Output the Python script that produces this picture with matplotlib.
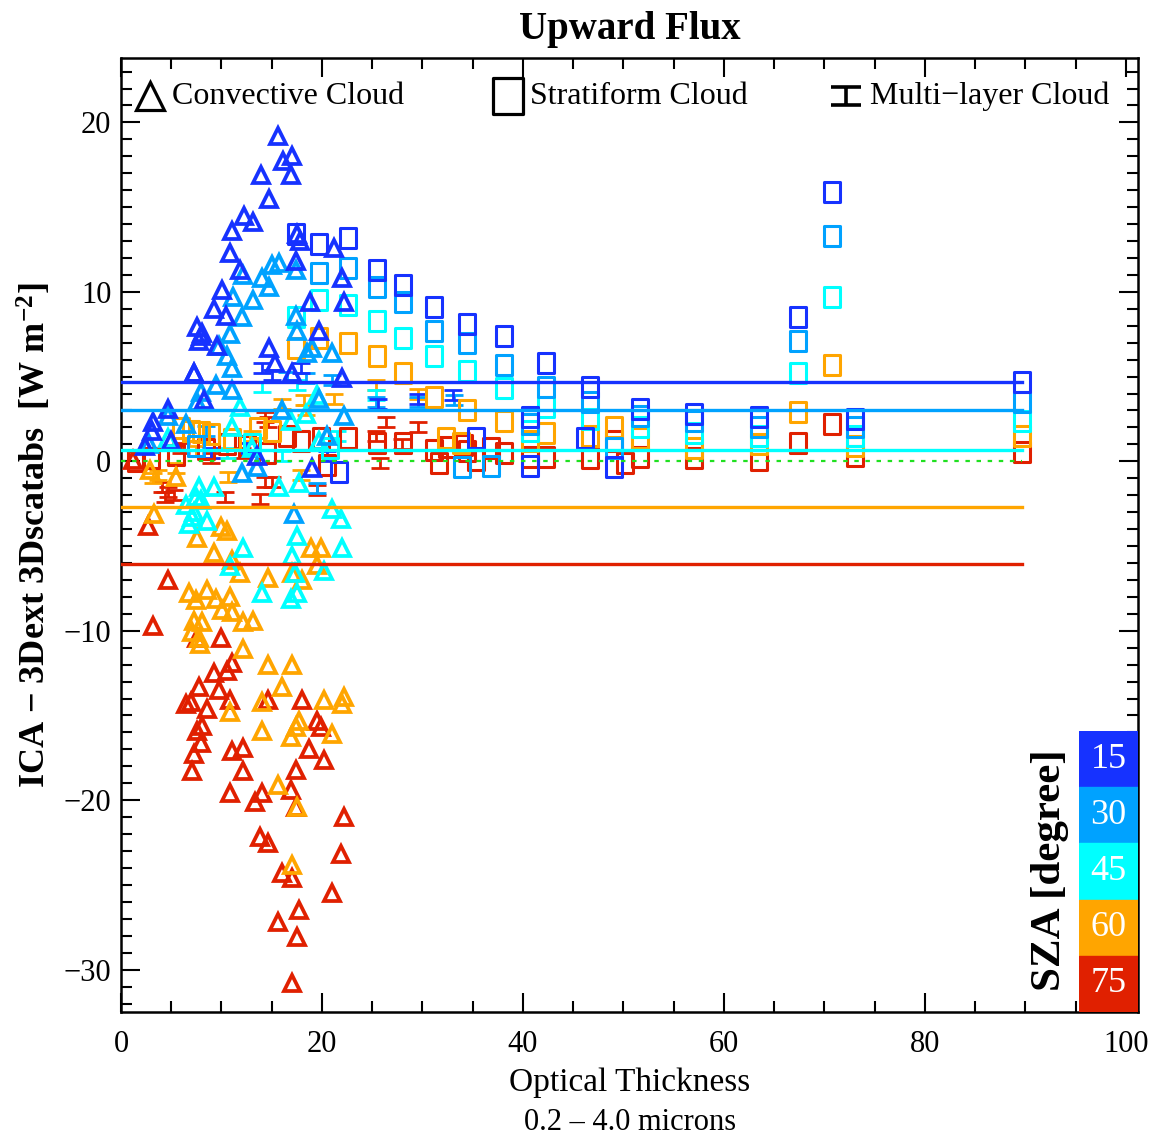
import numpy as np
import matplotlib
matplotlib.use("Agg")
import matplotlib.pyplot as plt
from matplotlib.path import Path
from matplotlib.ticker import MultipleLocator

plt.rcParams['font.family'] = ['Liberation Serif', 'DejaVu Serif']
plt.rcParams['mathtext.fontset'] = 'custom'
plt.rcParams['mathtext.rm'] = 'Liberation Serif:bold'
plt.rcParams['mathtext.default'] = 'rm'

# solar zenith angles and their colours
sza = [15, 30, 45, 60, 75]
sza_colors = ['#1632ff', '#00a2ff', '#00ffff', '#ffa500', '#e02000']

# mean difference per SZA (horizontal lines)
mean_diff = [4.65, 3.05, 0.65, -2.7, -6.05]
mean_xmax = 89.7

# convective cloud (triangles)
conv_x_15 = [15.6, 16.1, 17.0, 16.9, 13.9, 14.7, 12.2, 13.1, 11.0, 10.8, 11.8, 10.1, 9.3, 10.4, 8.1,
             7.8, 9.6, 7.3, 14.7, 17.5, 21.2, 17.4, 22.0, 18.8, 22.2, 19.7, 17.0, 22.0, 15.3, 7.3,
             4.7, 3.2, 8.3, 3.1, 8.0, 7.6, 5.0, 2.4, 17.8, 13.5, 19.0]
conv_y_15 = [19.2, 17.7, 18.0, 16.9, 16.9, 15.5, 14.5, 14.1, 13.6, 12.3, 11.3, 10.1, 9.0, 8.6, 7.6,
             7.1, 6.8, 5.2, 6.7, 13.4, 12.6, 11.8, 10.8, 9.4, 9.4, 7.7, 5.2, 4.9, 5.8, 5.2,
             3.1, 2.3, 3.6, 1.8, 7.4, 7.9, 1.2, 0.9, 13.0, 0.3, -0.4]
conv_x_30 = [15.7, 15.0, 17.4, 12.1, 14.0, 14.7, 11.1, 13.1, 12.0, 10.8, 9.8, 10.5, 11.0, 17.4, 21.0,
             19.0, 18.5, 17.5, 8.0, 7.6, 11.0, 9.5, 4.7, 19.7, 22.2, 17.2, 12.0, 13.5, 2.8, 6.5,
             16.0, 20.5]
conv_y_30 = [11.7, 11.6, 11.3, 11.0, 10.8, 10.3, 9.7, 9.5, 8.5, 7.5, 6.8, 6.2, 5.5, 8.6, 6.4,
             6.7, 6.4, 7.7, 4.1, 3.5, 4.2, 4.5, 2.7, 3.7, 2.7, -3.1, -0.7, -0.35, 1.0, 2.2,
             3.0, 1.5]
conv_x_45 = [7.8, 7.5, 7.1, 6.8, 8.6, 12.1, 10.8, 14.0, 16.9, 17.5, 17.5, 17.0, 21.0, 21.9, 22.0,
             20.2, 9.3, 17.7, 4.7, 11.8, 11.0, 16.9, 19.5, 18.4, 19.7, 15.7, 6.5, 7.3, 8.0, 17.3,
             13.0]
conv_y_45 = [-1.5, -2.1, -3.3, -3.7, -3.5, -5.1, -6.2, -7.8, -8.1, -7.8, -4.4, -5.6, -2.8, -3.4, -5.1,
             -6.5, -1.5, -1.3, 1.4, 3.2, 2.0, 2.4, 3.9, 2.8, 1.2, -1.5, -2.6, -3.0, -2.3, -6.6,
             0.8]
conv_x_60 = [7.6, 10.0, 10.5, 9.3, 11.0, 11.8, 14.6, 17.0, 18.0, 18.9, 19.9, 19.5, 6.8, 7.5, 8.6,
             9.5, 10.1, 10.8, 11.0, 7.3, 8.1, 12.1, 13.1, 7.1, 7.8, 12.1, 14.6, 17.0, 16.0, 14.0,
             10.8, 20.2, 22.2, 17.7, 17.4, 16.9, 21.0, 14.0, 15.6, 17.5, 17.0, 2.9, 3.3, 7.9, 22.0,
             5.5]
conv_y_60 = [-4.5, -3.9, -4.1, -5.4, -5.8, -6.6, -6.9, -6.6, -7.0, -5.1, -5.1, -6.1, -7.8, -8.2, -7.6,
             -8.1, -8.8, -8.0, -8.9, -9.4, -9.5, -9.5, -9.4, -10.1, -10.4, -11.1, -12.0, -12.0, -13.3, -14.2,
             -14.8, -14.1, -13.9, -15.3, -15.7, -16.3, -16.1, -15.9, -19.1, -20.4, -23.8, -0.5, -3.1, -10.8, -14.3,
             -0.9]
conv_x_75 = [1.2, 2.7, 4.7, 3.2, 7.6, 10.0, 7.0, 6.5, 7.8, 9.3, 11.0, 10.5, 9.8, 10.8, 8.6,
             8.1, 7.6, 8.0, 7.3, 7.1, 11.0, 12.1, 12.1, 10.8, 13.3, 14.0, 14.6, 18.0, 19.5, 19.9,
             18.7, 20.2, 17.4, 16.9, 17.4, 22.2, 13.8, 14.6, 21.9, 16.0, 17.0, 21.0, 17.7, 15.6, 17.5,
             17.0]
conv_y_75 = [0.05, -3.8, -7.0, -9.7, -10.4, -10.4, -14.2, -14.3, -13.3, -12.5, -11.9, -12.4, -13.5, -14.1, -14.6,
             -15.6, -15.9, -16.6, -17.3, -18.3, -17.1, -16.9, -18.3, -19.6, -20.1, -19.6, -14.1, -14.1, -15.3, -15.7,
             -17.0, -17.6, -18.2, -19.4, -20.4, -21.0, -22.2, -22.5, -23.2, -24.3, -24.6, -25.5, -26.5, -27.2, -28.1,
             -30.8]

# stratiform cloud (squares)
strat_x_15 = [17.4, 19.7, 22.6, 25.5, 28.1, 31.1, 34.4, 38.1, 42.3, 40.7, 46.7, 51.6, 57.0, 63.5, 67.4,
              70.8, 73.0, 89.7, 46.2, 49.1, 40.7, 35.3, 21.7]
strat_y_15 = [13.4, 12.8, 13.2, 11.3, 10.4, 9.1, 8.1, 7.4, 5.8, 2.6, 4.4, 3.1, 2.8, 2.6, 8.5,
              15.9, 2.5, 4.65, 1.35, -0.35, -0.25, 1.4, -0.65]
strat_x_30 = [19.7, 22.6, 25.5, 28.1, 31.1, 34.4, 38.1, 42.3, 40.7, 46.7, 49.1, 51.6, 57.0, 63.5, 67.4,
              70.8, 73.0, 89.7, 33.9, 36.8, 7.5]
strat_y_30 = [11.1, 11.4, 10.3, 9.4, 7.7, 7.0, 5.7, 4.4, 2.2, 3.5, 0.8, 2.7, 2.4, 2.0, 7.1,
              13.3, 2.0, 3.5, -0.35, -0.25, 0.9]
strat_x_45 = [17.4, 19.7, 22.6, 25.5, 28.1, 31.1, 34.4, 38.1, 42.3, 40.7, 46.7, 51.6, 57.0, 63.5, 67.4,
              70.8, 73.0, 89.7, 13.0, 20.8]
strat_y_45 = [8.5, 9.5, 9.2, 8.3, 7.3, 6.2, 5.3, 4.3, 3.2, 1.8, 2.5, 2.0, 1.65, 1.5, 5.2,
              9.7, 1.5, 2.4, 1.0, 0.8]
strat_x_60 = [17.4, 19.7, 22.6, 25.5, 28.1, 31.1, 34.4, 38.1, 42.3, 40.7, 46.7, 49.1, 51.6, 57.0, 63.5,
              67.4, 70.8, 73.0, 89.7, 6.0, 7.0, 8.0, 9.0, 13.6, 15.0, 33.8, 32.3, 11.0]
strat_y_60 = [6.7, 7.3, 7.0, 6.2, 5.2, 3.8, 3.0, 2.4, 1.65, 1.2, 1.5, 2.0, 1.35, 0.8, 1.0,
              2.9, 5.7, 0.9, 1.5, 1.95, 1.8, 1.7, 1.6, 1.95, 1.8, 1.1, 1.4, 1.3]
strat_x_75 = [17.9, 19.9, 22.6, 25.5, 28.1, 31.1, 34.4, 38.1, 42.3, 40.7, 46.7, 49.1, 50.2, 51.6, 57.0,
              63.5, 67.4, 70.8, 73.0, 89.7, 31.6, 32.4, 34.1, 35.3, 36.8, 16.5, 10.5, 12.5, 14.5, 8.5,
              5.5, 3.0, 20.5, 1.5]
strat_y_75 = [1.2, 1.4, 1.4, 1.1, 1.1, 0.65, 0.6, 0.5, 0.25, 0.25, 0.2, 1.2, -0.1, 0.25, 0.2,
              0.05, 1.1, 2.2, 0.3, 0.55, -0.1, 0.85, 0.95, 0.05, 0.8, 1.5, 1.0, 0.9, 0.5, 0.7,
              0.4, 0.2, -0.2, 0.0]

# multi-layer cloud
multi_x_15 = [14.0, 15.0, 17.9, 25.6, 29.6, 12.5, 9.0, 33.0, 20.5]
multi_y_15 = [5.5, 5.1, 5.5, 3.4, 3.7, 0.8, 0.5, 3.9, 0.3]
multi_x_30 = [16.5, 18.4, 25.4, 29.6, 19.5, 8.5, 21.0, 33.1]
multi_y_30 = [5.0, 4.9, 3.5, 3.5, -1.6, 1.8, 4.8, 3.6]
multi_x_45 = [17.5, 25.4, 14.0, 10.5, 21.5, 16.0]
multi_y_45 = [4.5, 3.9, 4.4, 0.5, 1.5, 0.3]
multi_x_60 = [16.0, 18.2, 21.2, 18.4, 25.4, 29.6, 3.7, 3.2, 10.6, 17.9, 7.5, 5.5, 13.0]
multi_y_60 = [3.4, 3.6, 3.7, 3.0, 4.5, 4.0, -0.8, -1.0, -0.9, -0.8, 0.6, -0.4, 1.5]
multi_x_75 = [14.3, 14.6, 4.1, 4.7, 5.3, 4.4, 10.3, 13.8, 14.3, 15.0, 19.5, 26.4, 25.4, 25.8, 29.6,
              28.0, 6.0, 9.0, 12.0]
multi_y_75 = [2.6, 2.3, -1.5, -1.8, -2.0, -2.1, -2.1, -2.2, -1.2, -1.2, -1.7, 2.3, 1.5, -0.1, 2.0,
              1.0, 0.8, 0.2, 0.5]

conv = [(conv_x_15, conv_y_15), (conv_x_30, conv_y_30), (conv_x_45, conv_y_45),
        (conv_x_60, conv_y_60), (conv_x_75, conv_y_75)]
strat = [(strat_x_15, strat_y_15), (strat_x_30, strat_y_30), (strat_x_45, strat_y_45),
         (strat_x_60, strat_y_60), (strat_x_75, strat_y_75)]
multi = [(multi_x_15, multi_y_15), (multi_x_30, multi_y_30), (multi_x_45, multi_y_45),
         (multi_x_60, multi_y_60), (multi_x_75, multi_y_75)]

# marker shapes
rect_marker = Path([(-0.42, -0.5), (0.42, -0.5), (0.42, 0.5), (-0.42, 0.5), (-0.42, -0.5)],
                   [Path.MOVETO, Path.LINETO, Path.LINETO, Path.LINETO, Path.CLOSEPOLY])
ibeam_marker = Path([(-1, 0.6), (1, 0.6), (0, 0.6), (0, -0.6), (-1, -0.6), (1, -0.6)],
                    [Path.MOVETO, Path.LINETO, Path.MOVETO, Path.LINETO, Path.MOVETO, Path.LINETO])

fig = plt.figure(figsize=(11.51, 11.43), dpi=100)
ax = fig.add_axes([121 / 1151, 1 - 1012 / 1143, 1017 / 1151, 954 / 1143])

# draw from high SZA to low so blues sit on top like the original
for i in range(4, -1, -1):
    c = sza_colors[i]
    ax.plot(multi[i][0], multi[i][1], ls='none', marker=ibeam_marker, ms=13, mew=2.0,
            mec=c, mfc='none', zorder=2)
for i in range(4, -1, -1):
    c = sza_colors[i]
    ax.plot(conv[i][0], conv[i][1], ls='none', marker='^', ms=11.5, mew=2.7,
            mec=c, mfc='none', zorder=3)
    ax.plot(strat[i][0], strat[i][1], ls='none', marker=rect_marker, ms=14, mew=2.2,
            mec=c, mfc='none', zorder=3)

ax.plot([0, mean_xmax], [0, 0], color='#20e020', lw=1.6, ls=(0, (2, 3)), zorder=4)
for i in range(5):
    ax.plot([0, mean_xmax], [mean_diff[i], mean_diff[i]], color=sza_colors[i], lw=2.4, zorder=5)

ax.set_xlim(0, 101.2)
ax.set_ylim(-32.5, 23.8)
ax.xaxis.set_major_locator(MultipleLocator(20))
ax.xaxis.set_minor_locator(MultipleLocator(5))
ax.yaxis.set_major_locator(MultipleLocator(10))
ax.yaxis.set_minor_locator(MultipleLocator(1))
ax.tick_params(which='both', direction='in', top=True, right=True, width=1.5, labelsize=22)
ax.tick_params(which='major', length=14)
ax.tick_params(which='minor', length=8)
ax.tick_params(axis='x', pad=13)
ax.tick_params(axis='y', pad=7)
for s in ax.spines.values():
    s.set_linewidth(1.8)

# legend drawn by hand across the top
leg_y = 0.960
ax.plot([0.0285], [leg_y], transform=ax.transAxes, marker='^', ms=20, mew=2.3, mec='black',
        mfc='none', ls='none', clip_on=False)
ax.text(0.050, leg_y, 'Convective Cloud', transform=ax.transAxes, fontsize=23, va='center', ha='left')
ax.plot([0.3805], [leg_y], transform=ax.transAxes, marker=rect_marker, ms=26, mew=2.3, mec='black',
        mfc='none', ls='none', clip_on=False)
ax.text(0.402, leg_y, 'Stratiform Cloud', transform=ax.transAxes, fontsize=23, va='center', ha='left')
ax.plot([0.713], [leg_y], transform=ax.transAxes, marker=ibeam_marker, ms=22, mew=2.6, mec='black',
        mfc='none', ls='none', clip_on=False)
ax.text(0.7365, leg_y, 'Multi\u2212layer Cloud', transform=ax.transAxes, fontsize=23, va='center', ha='left')

# SZA colour key
cax = fig.add_axes([1079 / 1151, 1 - 1012 / 1143, 59 / 1151, 281 / 1143])
for i in range(5):
    k = 4 - i
    cax.axhspan(k, k + 1, color=sza_colors[i])
    cax.text(0.5, k + 0.5, str(sza[i]), color='white', fontsize=26, ha='center', va='center',
             transform=cax.get_yaxis_transform())
cax.set_ylim(0, 5)
cax.set_xlim(0, 1)
cax.axis('off')
fig.text(1050 / 1151, 1 - 870 / 1143, 'SZA [degree]', rotation=90, fontsize=31, fontweight='bold',
         ha='center', va='center')

fig.text(630 / 1151, 1 - 30 / 1143, 'Upward Flux', fontsize=28, fontweight='bold', ha='center', va='center')
fig.text(630 / 1151, 1 - 1083 / 1143, 'Optical Thickness', fontsize=24, ha='center', va='center')
fig.text(630 / 1151, 1 - 1123 / 1143, '0.2 \u2013 4.0 microns', fontsize=22, ha='center', va='center')
fig.text(35 / 1151, 1 - 535 / 1143, 'ICA \u2212 3Dext 3Dscatabs  [W m$^{-2}$]', rotation=90, fontsize=26,
         fontweight='bold', ha='center', va='center')

fig.savefig('out.png', dpi=100)
